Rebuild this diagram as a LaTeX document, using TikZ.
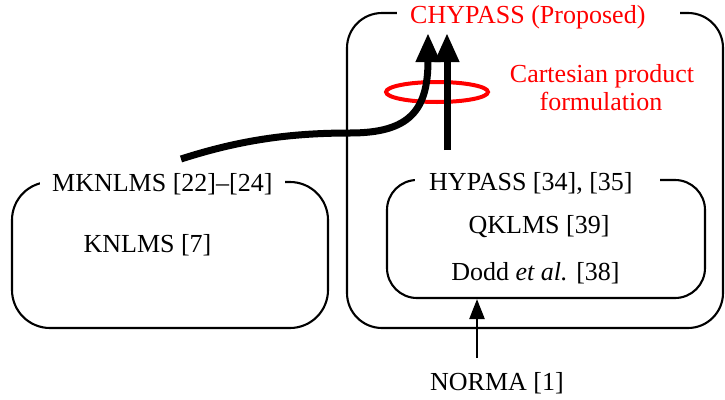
\documentclass[tikz,border=0pt]{standalone}
\usepackage{fontspec}
\setmainfont{Liberation Serif}
\usetikzlibrary{arrows.meta}
\begin{document}
\begin{tikzpicture}[x=1pt,y=-1pt,
  font=\fontsize{26}{28}\selectfont,
  box/.style={draw, line width=2.1pt, rounded corners=#1, inner sep=0pt},
  lbl/.style={fill=white, inner xsep=0pt, inner ysep=1pt, anchor=base west},
  txt/.style={anchor=base, inner sep=0pt},
  bigarrow/.style={line width=7pt, -{Triangle[length=29pt,width=23pt]}},
  smallarrow/.style={line width=2.5pt, -{Triangle[length=20pt,width=15pt]}},
]
\useasboundingbox (0,0) rectangle (725,399);
% boxes
\node[box=35pt, minimum width=376pt, minimum height=315pt] (outer) at (535,170.5) {};
\node[box=38pt, minimum width=316pt, minimum height=146pt] (left) at (170,255) {};
\node[box=30pt, minimum width=318pt, minimum height=118pt] (hyp) at (546,239) {};
% box labels
\node[lbl, text=red] (chy) at (397,23) {\kern13pt CHYPASS (Proposed)\kern35pt\relax};
\node[lbl] (mk) at (40,191) {\kern12pt MKNLMS [22]--[24]\kern13pt\relax};
\node[lbl] (hy) at (415,190) {\kern14pt HYPASS [34], [35]\kern27pt\relax};
% texts
\node[txt] (qk) at (539,233) {QKLMS [39]};
\node[txt] (dodd) at (535.5,280) {Dodd \textit{et al.} [38]};
\node[txt] (kn) at (147.5,252) {KNLMS [7]};
\node[txt] (norma) at (497,390) {NORMA [1]};
\node[txt, text=red] (cp1) at (602,82) {Cartesian product};
\node[txt, text=red] (cp2) at (601,110) {formulation};
% red ellipse
\draw[red, line width=4pt] (437,92) ellipse [x radius=51pt, y radius=10pt];
% arrows
\coordinate (mkstart) at (181,159);
\coordinate (mid) at (350,133);
\coordinate (tipA) at (428,33);
\coordinate (hystart) at (447,150);
\coordinate (tipB) at (447,33);
\coordinate (nb) at (477,358);
\draw[bigarrow] (mkstart) .. controls (240,140) and (290,133) .. (mid)
  .. controls (410,133) and (428,110) .. (tipA);
\draw[bigarrow] (hystart) -- (tipB);
\draw[smallarrow] (nb) -- (nb |- hyp.south);
\end{tikzpicture}
\end{document}
